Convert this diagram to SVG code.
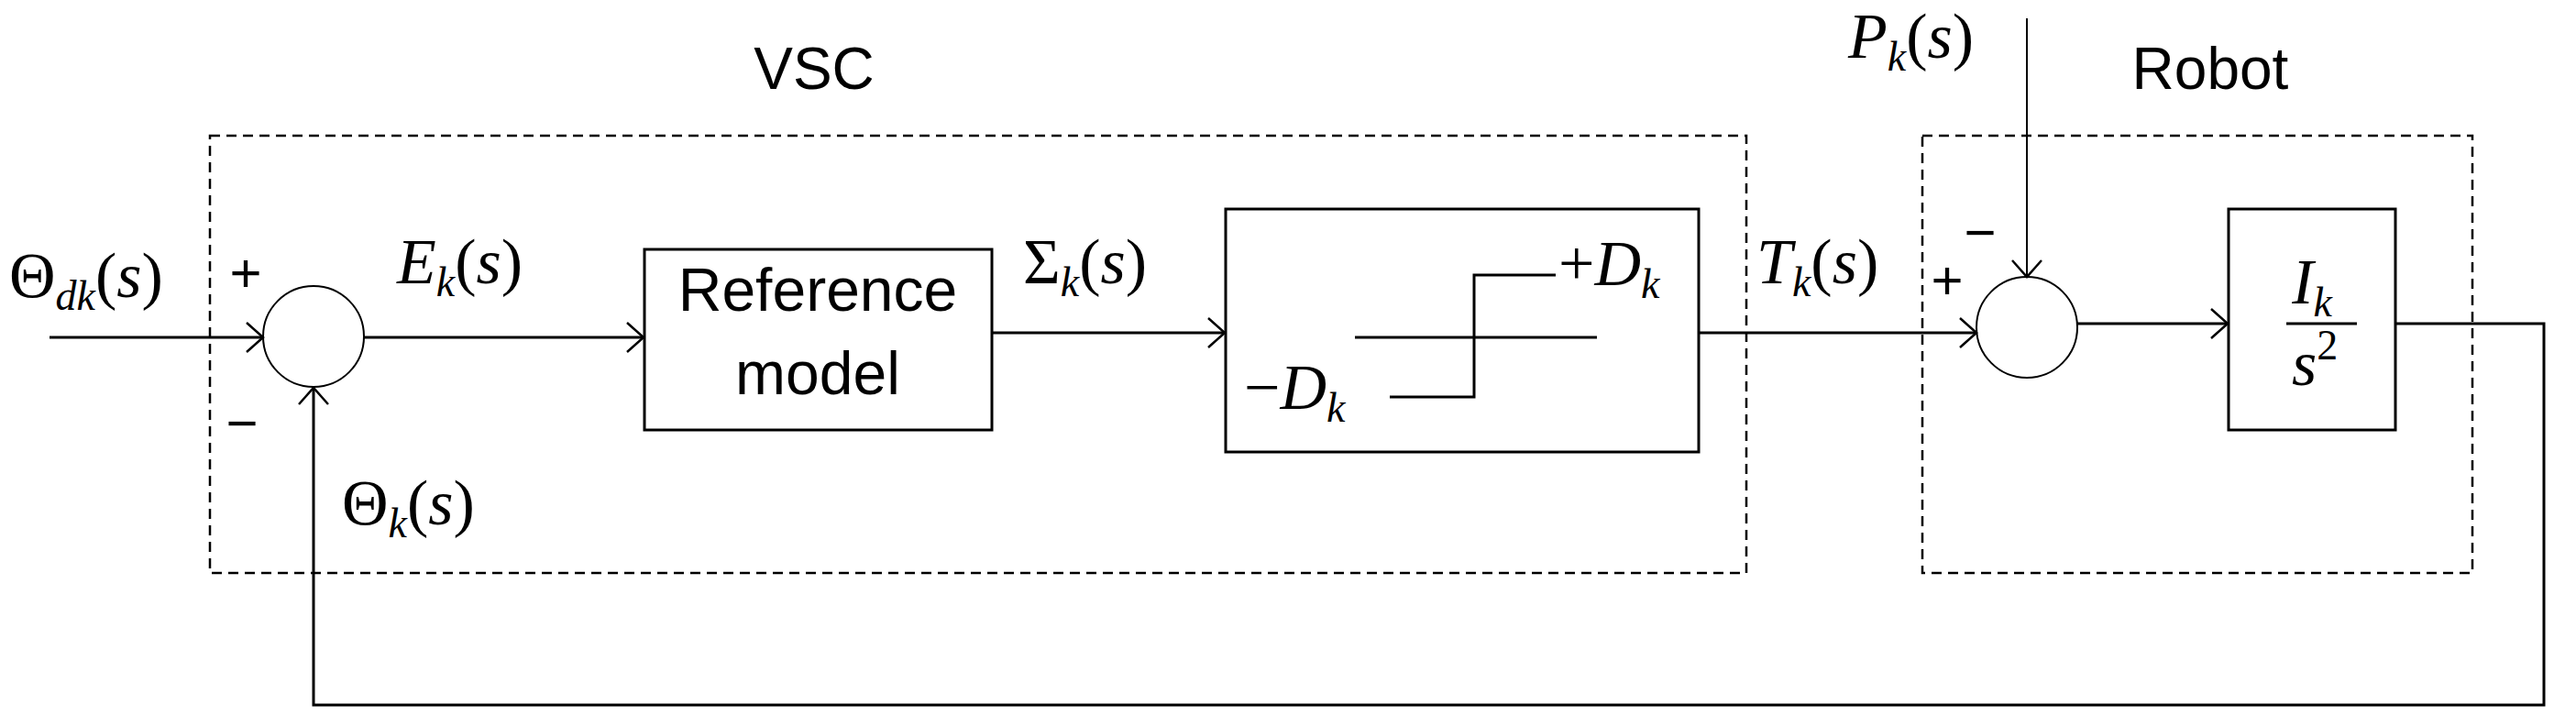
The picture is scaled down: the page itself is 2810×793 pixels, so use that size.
<svg xmlns="http://www.w3.org/2000/svg" width="2810" height="793" viewBox="0 0 2810 793">
<style>
.m{font-family:"Liberation Serif",serif;font-style:italic;font-size:70px;fill:#000}
.g{font-style:normal}
.s{font-family:"Liberation Sans",Arial,sans-serif;fill:#000}
.ln{fill:none;stroke:#000;stroke-width:3}
.d{fill:none;stroke:#000;stroke-width:2.5;stroke-dasharray:11 7}
</style>
<defs>
<marker id="a" markerUnits="userSpaceOnUse" markerWidth="30" markerHeight="40" refX="22" refY="18" orient="auto">
<path d="M4,2 L22,18 L4,34" fill="none" stroke="#000" stroke-width="2.5"/>
</marker>
</defs>
<g id="vsc-frame"><rect class="d" x="229" y="148" width="1676" height="477"/><text class="s" x="888" y="97" font-size="64" text-anchor="middle">VSC</text></g>
<g id="robot-frame"><rect class="d" x="2097" y="148" width="600" height="477"/><text class="s" x="2411" y="97" font-size="64" text-anchor="middle">Robot</text></g>
<g id="sum1"><circle cx="342" cy="367" r="55" fill="none" stroke="#000" stroke-width="2"/>
<text class="s" x="268" y="318" font-size="60" text-anchor="middle">+</text>
<text class="s" x="264" y="482" font-size="60" text-anchor="middle">−</text></g>
<g id="ref"><rect class="ln" x="703" y="272" width="379" height="197"/>
<text class="s" x="892" y="339" font-size="66" text-anchor="middle">Reference</text>
<text class="s" x="892" y="430" font-size="66" text-anchor="middle">model</text></g>
<g id="relay"><rect class="ln" x="1337" y="228" width="516" height="265"/>
<path class="ln" d="M1478,368 H1742 M1516,433 H1608 V300 H1697"/>
<text class="m" x="1700" y="311"><tspan class="g">+</tspan>D<tspan font-size="46" dy="14">k</tspan></text>
<text class="m" x="1357" y="446"><tspan class="g">−</tspan>D<tspan font-size="46" dy="14">k</tspan></text></g>
<g id="sum2"><circle cx="2211" cy="357" r="55" fill="none" stroke="#000" stroke-width="2"/>
<text class="s" x="2124" y="326" font-size="60" text-anchor="middle">+</text>
<text class="s" x="2160" y="274" font-size="60" text-anchor="middle">−</text></g>
<g id="plant"><rect class="ln" x="2431" y="228" width="182" height="241"/>
<text class="m" x="2522" y="331" text-anchor="middle">I<tspan font-size="46" dy="14">k</tspan></text>
<line class="ln" x1="2494" y1="353" x2="2571" y2="353"/>
<text class="m" x="2525" y="420" text-anchor="middle">s<tspan class="g" font-size="46" dy="-28">2</tspan></text></g>
<g id="connectors">
<line class="ln" x1="54" y1="368" x2="287" y2="368" marker-end="url(#a)"/>
<line class="ln" x1="397" y1="368" x2="702" y2="368" marker-end="url(#a)"/>
<line class="ln" x1="1082" y1="363" x2="1336" y2="363" marker-end="url(#a)"/>
<line class="ln" x1="1853" y1="363" x2="2156" y2="363" marker-end="url(#a)"/>
<line x1="2211" y1="20" x2="2211" y2="302" stroke="#000" stroke-width="2" marker-end="url(#a)"/>
<line class="ln" x1="2266" y1="353" x2="2430" y2="353" marker-end="url(#a)"/>
<path class="ln" d="M2613,353 H2775 V769 H342 V423" marker-end="url(#a)"/>
</g>
<g id="labels">
<text class="m" x="10" y="324"><tspan class="g">Θ</tspan><tspan font-size="46" dy="14">dk</tspan><tspan class="g" dy="-14">(</tspan>s<tspan class="g">)</tspan></text>
<text class="m" x="433" y="309">E<tspan font-size="46" dy="14">k</tspan><tspan class="g" dy="-14">(</tspan>s<tspan class="g">)</tspan></text>
<text class="m" x="1116" y="309"><tspan class="g">Σ</tspan><tspan font-size="46" dy="14">k</tspan><tspan class="g" dy="-14">(</tspan>s<tspan class="g">)</tspan></text>
<text class="m" x="1916" y="309">T<tspan font-size="46" dy="14">k</tspan><tspan class="g" dy="-14">(</tspan>s<tspan class="g">)</tspan></text>
<text class="m" x="2016" y="63">P<tspan font-size="46" dy="14">k</tspan><tspan class="g" dy="-14">(</tspan>s<tspan class="g">)</tspan></text>
<text class="m" x="373" y="572"><tspan class="g">Θ</tspan><tspan font-size="46" dy="14">k</tspan><tspan class="g" dy="-14">(</tspan>s<tspan class="g">)</tspan></text>
</g>
</svg>
